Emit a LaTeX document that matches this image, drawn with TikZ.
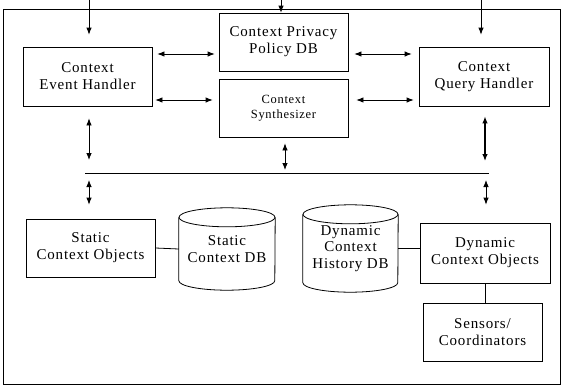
\documentclass[tikz,border=0pt]{standalone}
\usepackage{fontspec}
\setmainfont{Liberation Serif}[LetterSpace=5.5]
\usetikzlibrary{arrows.meta}
\tikzset{
  box/.style={draw, line width=0.8pt, rectangle, align=center, inner sep=0pt,
    minimum width=129pt, minimum height=58pt, font=\fontsize{15}{17}\selectfont},
  dbbox/.style={rectangle, align=center, inner sep=0pt, font=\fontsize{15}{16.5}\selectfont},
  conn/.style={line width=0.8pt},
  dbl/.style={line width=0.8pt, {Latex[length=7pt,width=5.5pt]}-{Latex[length=7pt,width=5.5pt]}},
  sgl/.style={line width=0.8pt, -{Latex[length=7pt,width=5.5pt]}},
}
\newcommand\drawcyl[2]{%
  \draw[line width=0.8pt] ([yshift=-9.5pt]#1.north) ellipse (#2pt and 9.5pt);
  \draw[line width=0.8pt] ([yshift=-9.5pt]#1.north west) -- ([yshift=9.5pt]#1.south west)
     arc (180:360:#2pt and 9.5pt) -- ([yshift=-9.5pt]#1.north east);
}
\begin{document}
\begin{tikzpicture}[x=1pt,y=-1pt]
\useasboundingbox (0,0) rectangle (562,388);
% outer frame
\draw[line width=1pt] (3,9) rectangle (560,384);

% nodes
\node[box, minimum width=129pt, minimum height=59pt] (ev) at (87.5,76.5) {Context\\Event Handler};
\node[box, minimum width=129pt, minimum height=58pt] (pol) at (283.5,42) {Context Privacy\\Policy DB};
\node[box, minimum width=129pt, minimum height=58pt, font=\fontsize{12.5}{15}\selectfont] (syn) at (283.5,108) {Context\\Synthesizer};
\node[box, minimum width=130pt, minimum height=59pt] (qh) at (484,76.5) {Context\\Query Handler};
\node[box, minimum width=129pt, minimum height=58pt] (so) at (90.5,248) {Static\\Context Objects};
\node[dbbox, minimum width=96pt, minimum height=82pt] (sdb) at (227,249) {Static\\Context DB};
\node[dbbox, minimum width=95pt, minimum height=87pt] (ddb) at (350.5,248.5) {Dynamic\\Context\\History DB};
\node[box, minimum width=130pt, minimum height=60pt] (dob) at (485,253) {Dynamic\\Context Objects};
\node[box, minimum width=119pt, minimum height=58pt] (sen) at (482.5,332) {Sensors/\\Coordinators};
\drawcyl{sdb}{48}
\drawcyl{ddb}{47.5}

% helper coordinates
\coordinate (inEv) at (89,0);
\coordinate (inPol) at (281,0);
\coordinate (inQh) at (481,0);
\coordinate (busL) at (85,173);
\coordinate (busR) at (489,173);
\coordinate (yA) at (0,54);
\coordinate (yB) at (0,100);
\coordinate (xE) at (89,0);
\coordinate (xS) at (285,0);
\coordinate (xQ) at (485,0);
\coordinate (xD) at (486,0);

% top inputs
\draw[sgl] (inEv) -- ([yshift=12pt]inEv |- ev.north);
\draw[sgl] (inPol) -- (inPol |- pol.north);
\draw[sgl] (inQh) -- ([yshift=12pt]inQh |- qh.north);

% horizontal arrows
\draw[dbl, shorten <=5pt, shorten >=4pt] (ev.east |- yA) -- (pol.west |- yA);
\draw[dbl, shorten <=3pt, shorten >=6pt] (ev.east |- yB) -- (syn.west |- yB);
\draw[dbl, shorten <=6pt, shorten >=7pt] (pol.east |- yA) -- (qh.west |- yA);
\draw[dbl, shorten <=8pt, shorten >=5pt] (syn.east |- yB) -- (qh.west |- yB);

% bus
\draw[conn] (busL) -- (busR);
\draw[dbl, shorten <=12pt, shorten >=13pt] (xE |- ev.south) -- (xE |- busL);
\draw[dbl, shorten <=6pt, shorten >=3pt] (xS |- syn.south) -- (xS |- busL);
\draw[dbl, line width=1.2pt, shorten <=10pt, shorten >=12pt] (xQ |- qh.south) -- (xQ |- busR);
\draw[dbl, shorten <=7pt, shorten >=14pt] (xE |- busL) -- (xE |- so.north);
\draw[dbl, shorten <=7pt, shorten >=18pt] (xD |- busR) -- (xD |- dob.north);

% lower connections
\draw[conn] (so.east) -- (sdb.west);
\draw[conn] (ddb.east) -- (dob.west |- ddb.east);
\draw[conn] (dob.south) -- (sen.north -| dob.south);
\end{tikzpicture}
\end{document}
